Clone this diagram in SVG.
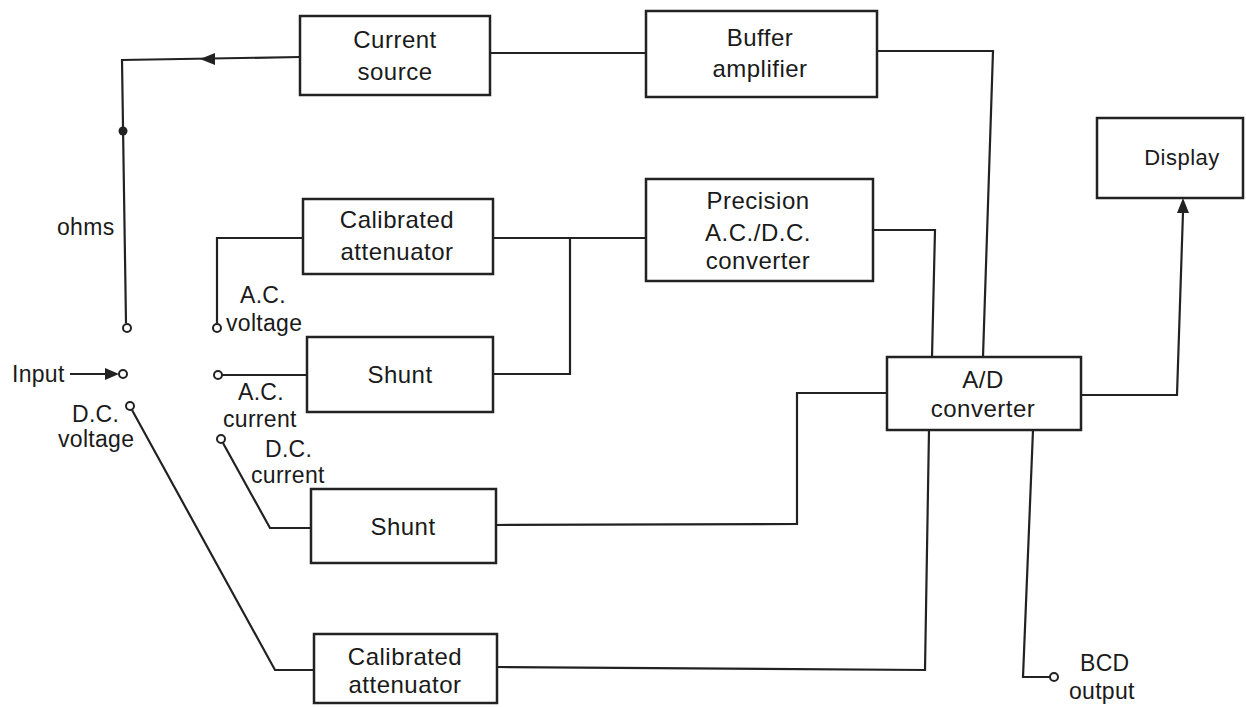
<svg xmlns="http://www.w3.org/2000/svg" width="1246" height="707" viewBox="0 0 1246 707">
<style>
.box{fill:#fff;stroke:#222;stroke-width:2.5}
.t{font-family:"Liberation Sans",Arial,sans-serif;font-size:24px;fill:#1a1a1a;text-anchor:middle;letter-spacing:0.5px}
.l{font-family:"Liberation Sans",Arial,sans-serif;font-size:23px;fill:#1a1a1a;letter-spacing:0.3px}
.w{fill:none;stroke:#222;stroke-width:2.2}
.c{fill:#fff;stroke:#222;stroke-width:2}
</style>
<rect width="1246" height="707" fill="#fff"/>
<g id="connectors">
  <polyline class="w" points="300,57 122,60 126,323"/>
  <polygon points="200,59 215,53 215,65" fill="#222"/>
  <circle cx="123" cy="131" r="4.5" fill="#222"/>
  <line class="w" x1="490" y1="53" x2="646" y2="53"/>
  <polyline class="w" points="877,51 993,51 983,357"/>
  <polyline class="w" points="303,238 217,238 217,323"/>
  <line class="w" x1="493" y1="238" x2="646" y2="238"/>
  <line class="w" x1="222" y1="375" x2="307" y2="375"/>
  <polyline class="w" points="493,374 570,374 570,238"/>
  <polyline class="w" points="873,230 935,230 932,357"/>
  <polyline class="w" points="223,443 270,528 311,528"/>
  <polyline class="w" points="496,525 797,524 797,393 887,393"/>
  <polyline class="w" points="132,410 275,670 314,670"/>
  <polyline class="w" points="497,667 925,670 929,430"/>
  <polyline class="w" points="1081,395 1177,395 1183,212"/>
  <polygon points="1183,198 1177,213 1189,213" fill="#222"/>
  <polyline class="w" points="1033,430 1023,677 1050,677"/>
  <line class="w" x1="70" y1="374" x2="108" y2="374"/>
  <polygon points="119,374 105,368 105,380" fill="#222"/>
</g>
<g id="terminals">
  <circle class="c" cx="127" cy="328" r="4"/>
  <circle class="c" cx="123" cy="374" r="4"/>
  <circle class="c" cx="130" cy="406" r="4"/>
  <circle class="c" cx="217" cy="328" r="4"/>
  <circle class="c" cx="218" cy="375" r="4"/>
  <circle class="c" cx="221" cy="439" r="4"/>
  <circle class="c" cx="1054" cy="677" r="4"/>
</g>
<g id="labels">
  <text class="l" x="57" y="235">ohms</text>
  <text class="l" x="240" y="303">A.C.</text>
  <text class="l" x="226" y="331">voltage</text>
  <text class="l" x="12" y="382">Input</text>
  <text class="l" x="238" y="400">A.C.</text>
  <text class="l" x="223" y="427">current</text>
  <text class="l" x="72" y="422">D.C.</text>
  <text class="l" x="58" y="447">voltage</text>
  <text class="l" x="265" y="457">D.C.</text>
  <text class="l" x="251" y="483">current</text>
  <text class="l" x="1080" y="671">BCD</text>
  <text class="l" x="1069" y="699">output</text>
</g>
<g id="current-source">
  <rect class="box" x="300" y="16" width="190" height="79"/>
  <text class="t" x="395" y="48">Current</text>
  <text class="t" x="395" y="80">source</text>
</g>
<g id="buffer-amplifier">
  <rect class="box" x="646" y="11" width="231" height="86"/>
  <text class="t" x="760" y="46">Buffer</text>
  <text class="t" x="760" y="77">amplifier</text>
</g>
<g id="calibrated-attenuator-ac">
  <rect class="box" x="303" y="199" width="190" height="75"/>
  <text class="t" x="397" y="228">Calibrated</text>
  <text class="t" x="397" y="260">attenuator</text>
</g>
<g id="precision-converter">
  <rect class="box" x="646" y="179" width="227" height="102"/>
  <text class="t" x="758" y="209">Precision</text>
  <text class="t" x="758" y="241">A.C./D.C.</text>
  <text class="t" x="758" y="269">converter</text>
</g>
<g id="shunt-ac">
  <rect class="box" x="307" y="337" width="186" height="75"/>
  <text class="t" x="400" y="383">Shunt</text>
</g>
<g id="shunt-dc">
  <rect class="box" x="311" y="489" width="185" height="74"/>
  <text class="t" x="403" y="535">Shunt</text>
</g>
<g id="calibrated-attenuator-dc">
  <rect class="box" x="314" y="634" width="183" height="69"/>
  <text class="t" x="405" y="665">Calibrated</text>
  <text class="t" x="405" y="693">attenuator</text>
</g>
<g id="ad-converter">
  <rect class="box" x="887" y="357" width="194" height="73"/>
  <text class="t" x="983" y="388">A/D</text>
  <text class="t" x="983" y="417">converter</text>
</g>
<g id="display">
  <rect class="box" x="1097" y="118" width="146" height="80"/>
  <text class="t" x="1182" y="165" style="font-size:22px">Display</text>
</g>
</svg>
